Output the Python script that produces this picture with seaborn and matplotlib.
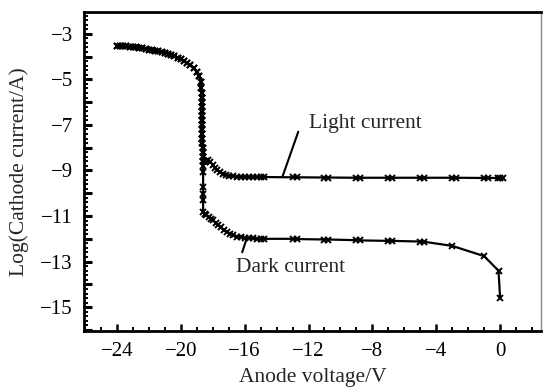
import numpy as np
import pandas as pd
import matplotlib
matplotlib.use("Agg")
import matplotlib.pyplot as plt
import seaborn as sns
from matplotlib.ticker import MultipleLocator, FuncFormatter

# ---- data (anode voltage in V, log10 cathode current in A) ----
# shared breakdown region (both curves coincide)
shared_v = [-24.0, -23.8, -23.6, -23.4, -23.2, -23.0, -22.8, -22.6, -22.4, -22.2,
            -22.0, -21.8, -21.6, -21.4, -21.2, -21.0, -20.8, -20.6, -20.4, -20.2,
            -20.0, -19.8, -19.6, -19.4, -19.2, -19.0, -18.85, -18.75,
            -18.72, -18.70, -18.70, -18.69, -18.68, -18.68, -18.67, -18.66, -18.66,
            -18.65, -18.65, -18.64, -18.64, -18.63, -18.63, -18.62, -18.62]
shared_i = [-3.53, -3.54, -3.55, -3.56, -3.57, -3.58, -3.60, -3.61, -3.64, -3.67,
            -3.70, -3.72, -3.74, -3.77, -3.80, -3.83, -3.88, -3.93, -3.99, -4.06,
            -4.13, -4.20, -4.29, -4.38, -4.50, -4.66, -4.85, -5.10,
            -5.4, -5.6, -5.8, -6.0, -6.2, -6.4, -6.6, -6.8, -7.0,
            -7.2, -7.4, -7.6, -7.8, -8.0, -8.2, -8.4, -8.6]

light_v = [-18.5, -18.4, -18.29, -18.15, -18.0, -17.85, -17.7, -17.55, -17.35, -17.15,
           -16.95, -16.72, -16.5, -16.25, -16.0, -15.75, -15.5, -15.25, -15.0, -14.8,
           -13.0, -12.75, -11.0, -10.75, -9.0, -8.75, -7.0, -6.75, -5.0, -4.75,
           -3.0, -2.75, -1.0, -0.75, -0.15, 0.0, 0.15]
light_i = [-8.62, -8.58, -8.55, -8.62, -8.75, -8.88, -8.98, -9.08, -9.17, -9.21,
           -9.24, -9.26, -9.27, -9.28, -9.28, -9.29, -9.29, -9.29, -9.29, -9.29,
           -9.30, -9.30, -9.31, -9.31, -9.32, -9.32, -9.32, -9.32, -9.32, -9.32,
           -9.32, -9.32, -9.33, -9.33, -9.33, -9.33, -9.33]

dark_v = [-18.6, -18.6, -18.6, -18.6, -18.6, -18.6,
          -18.5, -18.39, -18.25, -18.1, -17.97, -17.8, -17.65, -17.5, -17.3, -17.1,
          -16.93, -16.7, -16.5, -16.25, -16.0, -15.75, -15.5, -15.25, -15.0, -14.8,
          -13.0, -12.75, -11.0, -10.75, -9.0, -8.75, -7.0, -6.75, -5.0, -4.75,
          -3.0, -1.0, -0.1, 0.0]
dark_i = [-8.8, -9.07, -9.73, -10.02, -10.31, -10.83,
          -10.9, -10.97, -11.05, -11.12, -11.19, -11.3, -11.4, -11.5, -11.62, -11.72,
          -11.78, -11.85, -11.9, -11.93, -11.95, -11.97, -11.98, -11.99, -12.0, -12.0,
          -12.0, -12.01, -12.03, -12.03, -12.06, -12.07, -12.09, -12.09, -12.12, -12.13,
          -12.31, -12.76, -13.4, -14.6]

x_ticks = [-24, -20, -16, -12, -8, -4, 0]
y_labels = [-3, -5, -7, -9, -11, -13, -15]

df_light = pd.DataFrame({"v": shared_v + light_v, "i": shared_i + light_i})
df_dark = pd.DataFrame({"v": shared_v + dark_v, "i": shared_i + dark_i})

sns.set_style("ticks")
plt.rcParams["font.family"] = ["Liberation Serif", "DejaVu Serif"]

fig = plt.figure(figsize=(5.43, 3.90), dpi=100)
ax = fig.add_axes([0.155, 0.151, 0.841, 0.818])

style = dict(color="black", linewidth=1.6, marker="x", markersize=4.5,
             markeredgewidth=1.4, markeredgecolor="black", sort=False, estimator=None)
sns.lineplot(data=df_dark, x="v", y="i", ax=ax, **style)
sns.lineplot(data=df_light, x="v", y="i", ax=ax, **style)

ax.set_xlim(-26.05, 2.55)
ax.set_ylim(-16.05, -2.05)

ax.xaxis.set_major_locator(MultipleLocator(4))
ax.xaxis.set_minor_locator(MultipleLocator(1))
ax.yaxis.set_major_locator(MultipleLocator(1))
ax.yaxis.set_minor_locator(MultipleLocator(0.2))

def yfmt(val, pos):
    iv = int(round(val))
    if iv in y_labels and abs(val - iv) < 1e-6:
        return "\u2212%d" % abs(iv) if iv < 0 else "%d" % iv
    return ""

def xfmt(val, pos):
    iv = int(round(val))
    if iv in x_ticks:
        return "\u2212%d" % abs(iv) if iv < 0 else "%d" % iv
    return ""

ax.yaxis.set_major_formatter(FuncFormatter(yfmt))
ax.xaxis.set_major_formatter(FuncFormatter(xfmt))

ax.tick_params(axis="both", which="major", direction="in", length=6, width=2.2,
               labelsize=15, colors="black", pad=8)
ax.tick_params(axis="both", which="minor", direction="in", length=3, width=1.4,
               colors="black")
ax.tick_params(axis="x", which="major", length=5, width=1.8)

for side in ["left", "bottom", "top"]:
    ax.spines[side].set_linewidth(2.0)
    ax.spines[side].set_color("black")
ax.spines["right"].set_linewidth(1.0)
ax.spines["right"].set_color("#888888")

ax.set_xlabel("Anode voltage/V", fontsize=15.5, labelpad=5)
ax.set_ylabel("Log(Cathode current/A)", fontsize=15.5, labelpad=8)

ax.text(-12.0, -6.95, "Light current", fontsize=15.5, ha="left", va="center")
ax.annotate("", xy=(-13.63, -9.27), xytext=(-12.64, -7.3),
            arrowprops=dict(arrowstyle="-", lw=1.5, color="black", shrinkA=0, shrinkB=0))
ax.text(-16.52, -13.25, "Dark current", fontsize=15.5, ha="left", va="center")
ax.annotate("", xy=(-15.9, -12.04), xytext=(-16.15, -12.59),
            arrowprops=dict(arrowstyle="-", lw=1.5, color="black", shrinkA=0, shrinkB=0))

fig.savefig("out.png", dpi=100)
